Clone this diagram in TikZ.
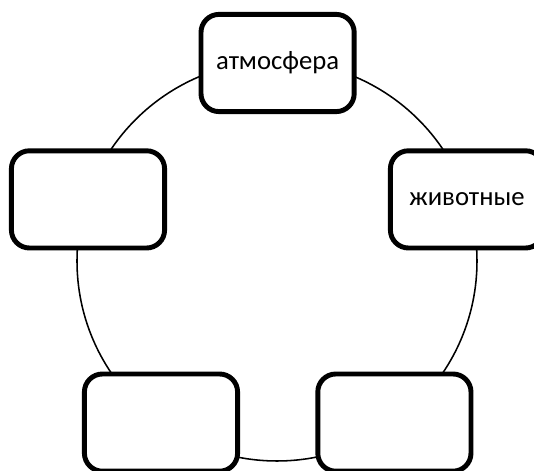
\documentclass[tikz,border=0pt]{standalone}
\usepackage{fontspec}
\setmainfont{Carlito}
\usetikzlibrary{positioning}
\tikzset{
    ring/.style={line width=1.1pt},
    card/.style={draw, line width=3.5pt, rounded corners=0.45cm, fill=white,
        minimum width=3.83cm, minimum height=2.43cm, align=center},
    every node/.style={font=\fontsize{19}{23}\selectfont}
}
\begin{document}
\begin{tikzpicture}
    \useasboundingbox (0,0) rectangle (13.35,11.775);
    \clip (0,0) rectangle (13.35,11.775);
    % cycle
    \coordinate (centre) at (6.925,5.25);
    \draw[ring] (centre) circle (5cm);
    % boxes round the cycle
    \node[card] (air) at (6.94,10.2) {атмосфера};
    \node[card] (animals) at (11.675,6.79) {животные};
    \node[card] (left) at (2.2,6.79) {};
    \node[card] (lowleft) at (4.025,1.21) {};
    \node[card] (lowright) at (9.86,1.21) {};
\end{tikzpicture}
\end{document}
